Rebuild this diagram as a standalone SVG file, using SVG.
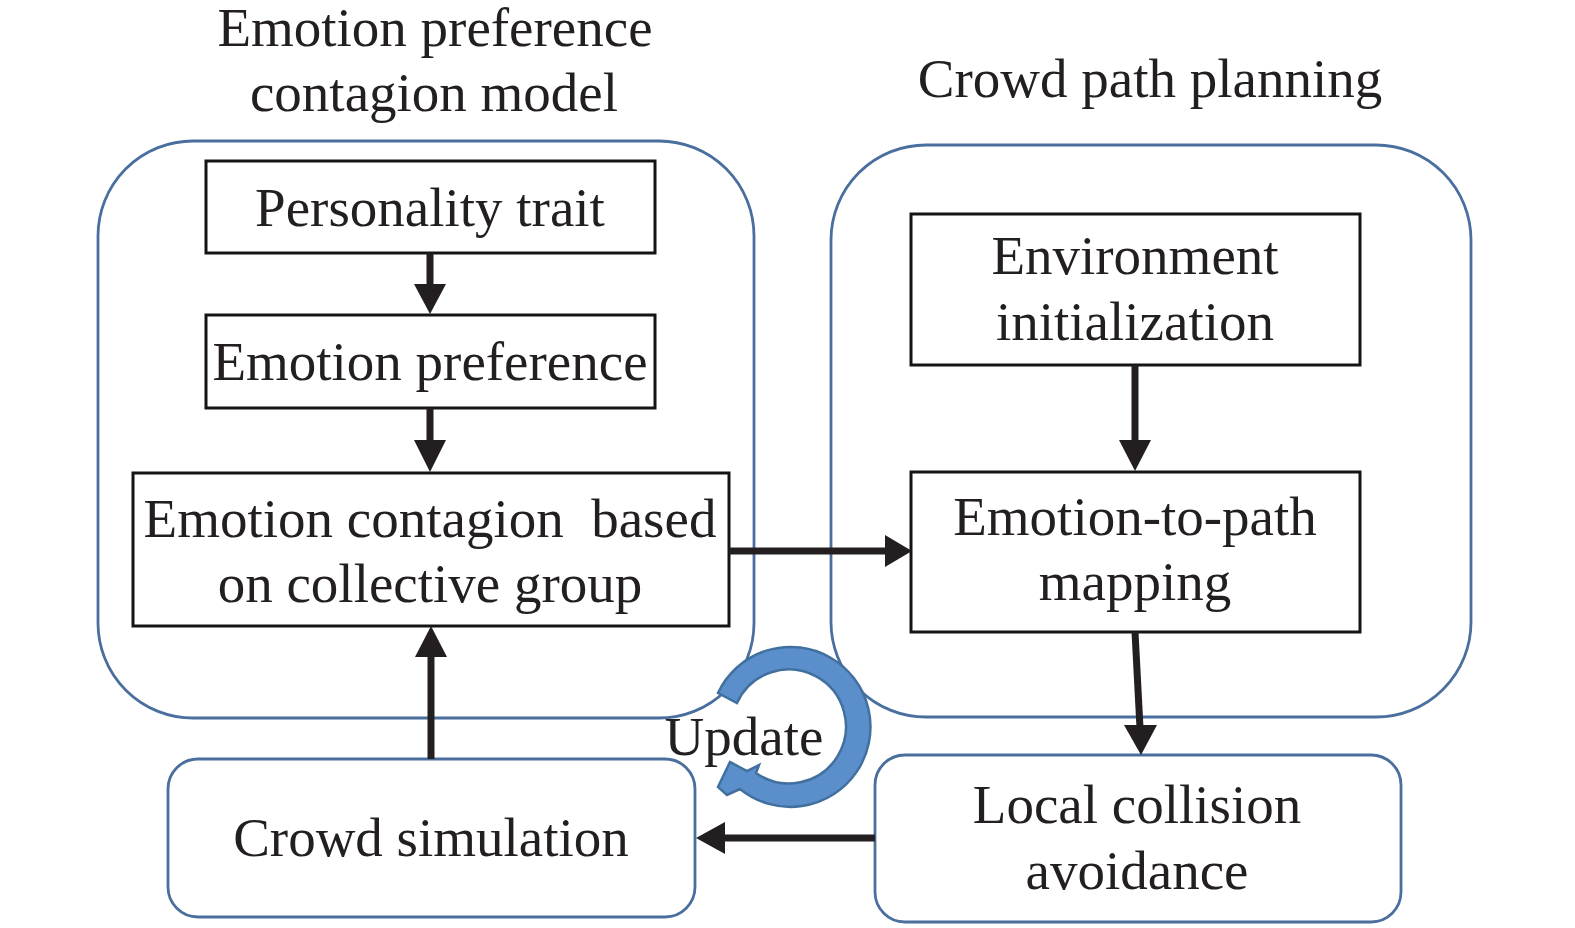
<svg xmlns="http://www.w3.org/2000/svg" width="1575" height="928" viewBox="0 0 1575 928">
<style>
text{font-family:"Liberation Serif","Times New Roman",serif;font-size:55px;fill:#231f20;text-anchor:middle}
.grp{fill:none;stroke:#4a6f9e;stroke-width:2.8}
.box{fill:#fff;stroke:#141414;stroke-width:3}
.rbox{fill:#fff;stroke:#4a6f9e;stroke-width:2.8}
.shaft{stroke:#231f20;stroke-width:7;fill:none}
.head{fill:#231f20}
</style>
<rect width="1575" height="928" fill="#fff"/>
<g id="titles">
<text x="435" y="46">Emotion preference</text>
<text x="434" y="111">contagion model</text>
<text x="1150" y="97">Crowd path planning</text>
</g>
<g id="group-left"><rect class="grp" x="98" y="141" width="656" height="577" rx="95" ry="95"/></g>
<g id="group-right"><rect class="grp" x="831" y="145" width="640" height="572" rx="95" ry="95"/></g>
<g id="personality"><rect class="box" x="206" y="161" width="449" height="92"/><text x="430" y="226">Personality trait</text></g>
<g id="preference"><rect class="box" x="206" y="315" width="449" height="93"/><text x="430" y="380">Emotion preference</text></g>
<g id="contagion"><rect class="box" x="133" y="473" width="596" height="153"/><text x="430" y="537" xml:space="preserve">Emotion contagion  based</text><text x="430" y="602">on collective group</text></g>
<g id="environment"><rect class="box" x="911" y="214" width="449" height="151"/><text x="1135" y="274">Environment</text><text x="1135" y="340">initialization</text></g>
<g id="mapping"><rect class="box" x="911" y="472" width="449" height="160"/><text x="1135" y="535">Emotion-to-path</text><text x="1135" y="600">mapping</text></g>
<g id="simulation"><rect class="rbox" x="168" y="759" width="527" height="158" rx="30" ry="30"/><text x="431" y="856">Crowd simulation</text></g>
<g id="collision"><rect class="rbox" x="875" y="755" width="526" height="167" rx="30" ry="30"/><text x="1137" y="823">Local collision</text><text x="1137" y="889">avoidance</text></g>
<g id="connectors">
<line class="shaft" x1="430" y1="253" x2="430" y2="287"/><polygon class="head" points="414,284 446,284 430,314"/>
<line class="shaft" x1="430" y1="408" x2="430" y2="442"/><polygon class="head" points="414,440 446,440 430,472"/>
<line class="shaft" x1="729" y1="551" x2="888" y2="551"/><polygon class="head" points="885,535 885,567 912,551"/>
<line class="shaft" x1="1135" y1="365" x2="1135" y2="443"/><polygon class="head" points="1119,440 1151,440 1135,471"/>
<line class="shaft" x1="1135" y1="632" x2="1140" y2="728"/><polygon class="head" points="1124,725 1157,725 1141,755"/>
<line class="shaft" x1="875" y1="838" x2="722" y2="838"/><polygon class="head" points="725,822 725,854 696,838"/>
<line class="shaft" x1="431" y1="759" x2="431" y2="654"/><polygon class="head" points="415,657 447,657 431,626"/>
</g>
<g id="update">
<path d="M718,693 A80,80 0 1,1 740,789 L727,795 L718,787 L730,762 L747,771 L759,765 L756,773 A57,57 0 1,0 737,703 Z" fill="#5b8fcb" stroke="#41709f" stroke-width="2.5" stroke-linejoin="miter"/>
<text x="744" y="755">Update</text>
</g>
</svg>
